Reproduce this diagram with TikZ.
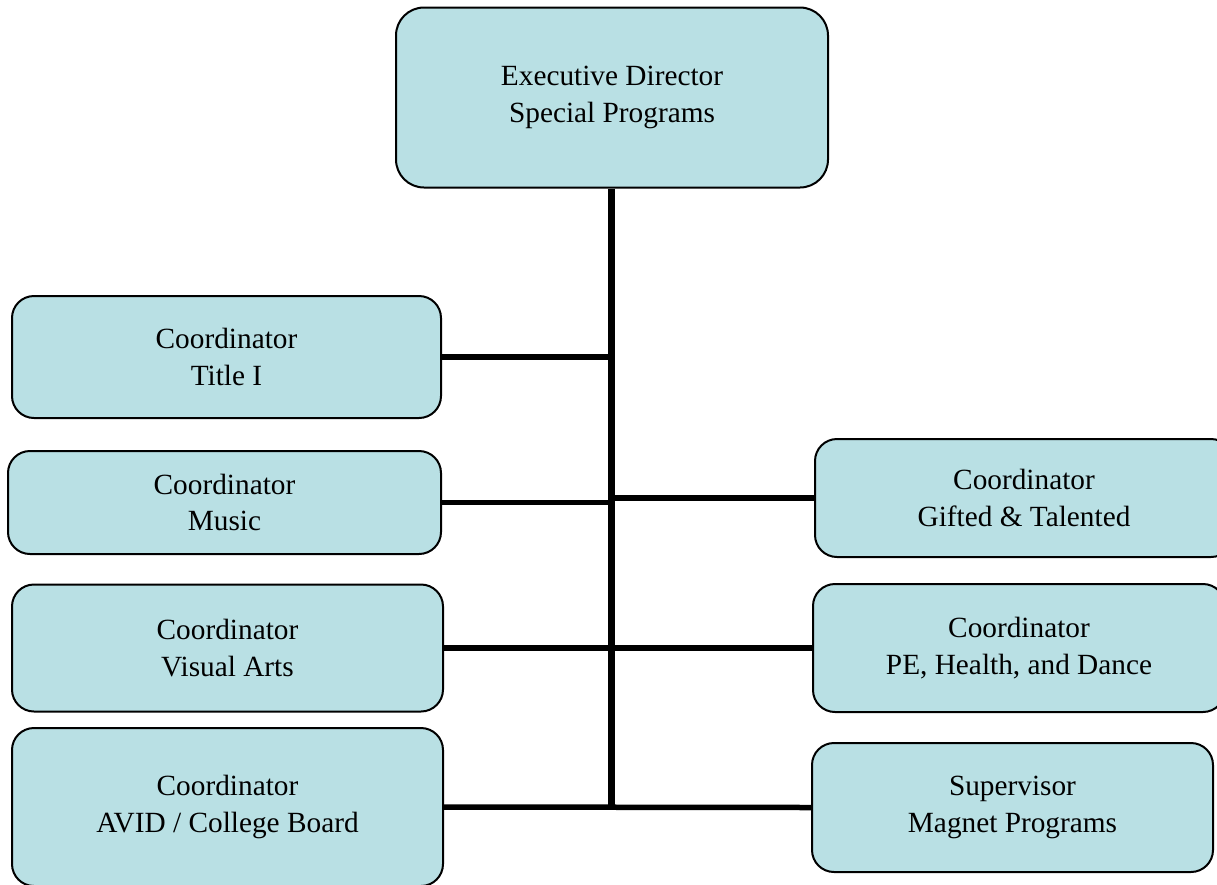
\documentclass[tikz,border=0pt]{standalone}
\usepackage{fontspec}
\setmainfont{Liberation Serif}
\definecolor{boxfill}{RGB}{185,224,228}
\tikzset{
  orgbox/.style={draw=black, line width=2pt, fill=boxfill, rounded corners=22pt,
    inner sep=0pt, align=center, font=\fontsize{29.3}{36.5}\selectfont},
  conn/.style={line width=5.5pt, draw=black},
  trunk/.style={line width=6.5pt, draw=black}
}
\begin{document}
\begin{tikzpicture}[x=1pt,y=-1pt]
\useasboundingbox (0,0) rectangle (1217,884);
\clip (0,0) rectangle (1217,884);
\node[orgbox, rounded corners=28pt, minimum width=432pt, minimum height=180pt] (exec) at (612,97.5) {Executive Director\\Special Programs};
\node[orgbox, minimum width=429pt, minimum height=122pt] (ti) at (226.5,357) {Coordinator\\Title I};
\node[orgbox, minimum width=433pt, minimum height=103pt] (mu) at (224.5,502.5) {Coordinator\\Music};
\node[orgbox, minimum width=431pt, minimum height=127pt] (va) at (227.5,648) {Coordinator\\Visual Arts};
\node[orgbox, minimum width=431pt, minimum height=158pt] (av) at (227.5,807) {Coordinator\\AVID / College Board};
\node[orgbox, minimum width=418pt, minimum height=118pt] (gt) at (1024,498) {Coordinator\\Gifted \& Talented};
\node[orgbox, minimum width=412pt, minimum height=128pt] (pe) at (1019,648) {Coordinator\\PE, Health, and Dance};
\node[orgbox, minimum width=401pt, minimum height=129pt] (mg) at (1012.5,807.5) {Supervisor\\Magnet Programs};
\coordinate (bot) at (611.5,806);
\draw[trunk] (exec.south -| bot) -- (bot);
\draw[conn] (ti.east) -- (ti.east -| bot);
\draw[conn] (mu.east) -- (mu.east -| bot);
\draw[conn] (gt.west) -- (gt.west -| bot);
\draw[conn] (va.east) -- (pe.west);
\draw[conn] (av.east) -- (mg.west);
\end{tikzpicture}
\end{document}
